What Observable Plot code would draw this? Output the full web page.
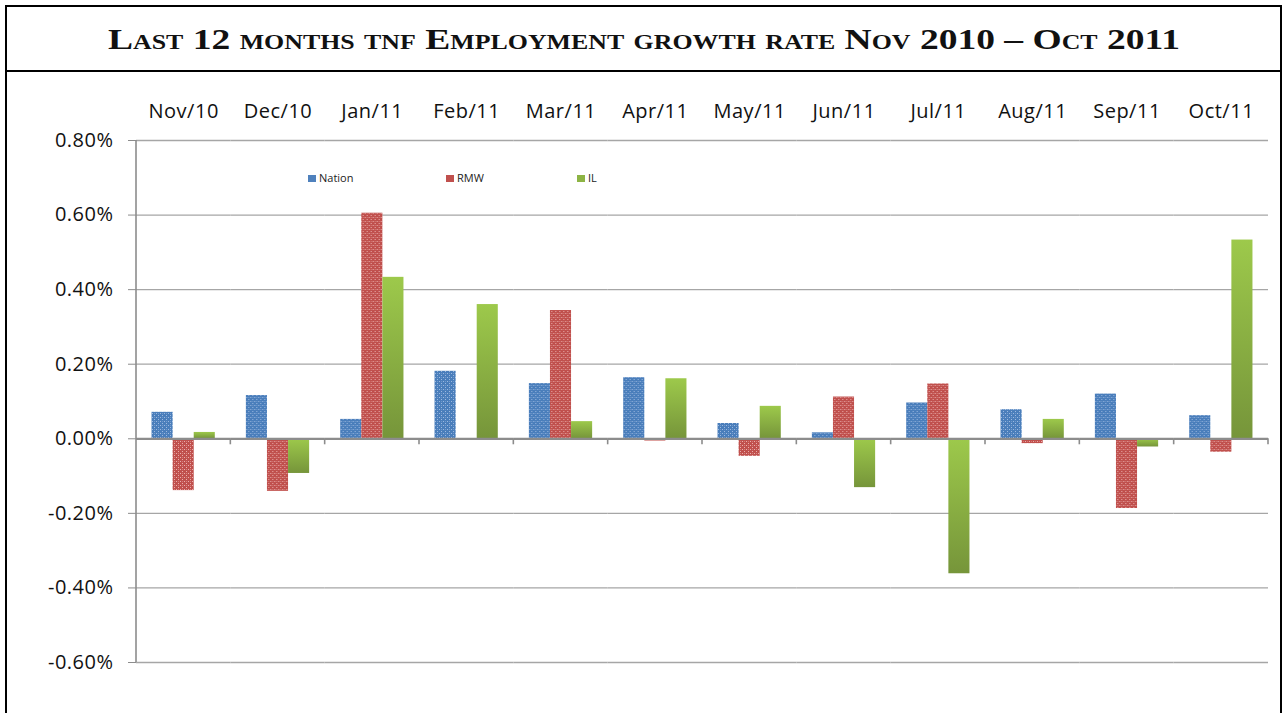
<!DOCTYPE html>
<html><head><meta charset="utf-8">
<script src="https://cdn.jsdelivr.net/npm/d3@7"></script>
<script src="https://cdn.jsdelivr.net/npm/@observablehq/plot@0.6"></script>
<style>
html,body{margin:0;padding:0;background:#fff;width:1287px;height:713px;overflow:hidden;position:relative;}
#box{position:absolute;left:5px;top:5px;width:1273px;height:800px;border:2px solid #000;}
#titlebar{position:absolute;left:0;top:0;width:1273px;height:63px;border-bottom:2px solid #000;}
#title{position:absolute;left:108px;top:19px;height:40px;line-height:40px;font-family:"Liberation Serif",serif;font-weight:bold;font-variant:small-caps;font-size:29px;white-space:nowrap;transform-origin:left center;color:#111;}
#chart{position:absolute;left:0;top:73px;}
.lg{position:absolute;top:170px;height:15px;line-height:15px;font-family:"Open Sans",sans-serif;font-size:11px;color:#222;white-space:nowrap;}
.sw{display:inline-block;width:8px;height:7px;vertical-align:middle;margin-right:3px;position:relative;top:-1px;}
</style></head>
<body>
<svg width="0" height="0" style="position:absolute">
  <defs>
    <pattern id="pN" patternUnits="userSpaceOnUse" width="4" height="4">
      <rect width="4" height="4" fill="#4a7ebb"/>
      <rect x="0" y="0" width="1" height="1" fill="#9cb9e0"/>
      <rect x="2" y="2" width="1" height="1" fill="#9cb9e0"/>
      <rect x="2" y="0" width="1" height="1" fill="#6f98cc"/>
    </pattern>
    <pattern id="pR" patternUnits="userSpaceOnUse" width="4" height="4">
      <rect width="4" height="4" fill="#c0504d"/>
      <rect x="0" y="0" width="1" height="1" fill="#eaaeac"/>
      <rect x="2" y="2" width="1" height="1" fill="#eaaeac"/>
      <rect x="2" y="0" width="1" height="1" fill="#d47b78"/>
    </pattern>
    <linearGradient id="gI" x1="0" y1="0" x2="0" y2="1">
      <stop offset="0" stop-color="#9dc94b"/>
      <stop offset="1" stop-color="#76953a"/>
    </linearGradient>
  </defs>
</svg>
<div id="box"><div id="titlebar"></div></div>
<div id="title">Last 12 months tnf Employment growth rate Nov 2010 – Oct 2011</div>
<div id="chart"></div>
<div class="lg" style="left:308px"><span class="sw" style="background:#4f81bd"></span>Nation</div>
<div class="lg" style="left:446px"><span class="sw" style="background:#c0504d"></span>RMW</div>
<div class="lg" style="left:577px"><span class="sw" style="background:#8db444"></span>IL</div>
<script>
const months = ["Nov/10","Dec/10","Jan/11","Feb/11","Mar/11","Apr/11","May/11","Jun/11","Jul/11","Aug/11","Sep/11","Oct/11"];
const series = ["Nation","RMW","IL"];
const nation = [0.071, 0.116, 0.052, 0.181, 0.148, 0.164, 0.041, 0.016, 0.096, 0.078, 0.120, 0.062];
const rmw    = [-0.139, -0.141, 0.605, 0.000, 0.344, -0.006, -0.047, 0.112, 0.147, -0.013, -0.187, -0.036];
const il     = [0.017, -0.093, 0.433, 0.360, 0.046, 0.161, 0.087, -0.131, -0.362, 0.052, -0.022, 0.533];
const yTicks = [-0.6, -0.4, -0.2, 0, 0.2, 0.4, 0.6, 0.8];
const fills = {Nation: "url(#pN)", RMW: "url(#pR)", IL: "url(#gI)"};
const valuesBySeries = {Nation: nation, RMW: rmw, IL: il};

const data = months.flatMap((m, i) => series.map(s => ({month: m, series: s, value: valuesBySeries[s][i]})));

const chart = Plot.plot({
  width: 1287, height: 640,
  marginLeft: 136, marginRight: 19, marginTop: 67, marginBottom: 51,
  style: {fontFamily: "'Open Sans', sans-serif", background: "transparent", color: "#111"},
  fx: {domain: months, padding: 0, round: false},
  x: {domain: series, paddingInner: 0, paddingOuter: 0.737, round: false, axis: null},
  y: {domain: [-0.6, 0.8]},
  marks: [
    Plot.ruleY(yTicks.filter(t => t !== 0), {stroke: "#a6a6a6", strokeWidth: 1.3}),
    ...series.map(s => Plot.barY(data.filter(d => d.series === s), {fx: "month", x: "series", y: "value", fill: fills[s]})),
    Plot.ruleY([0], {stroke: "#8c8c8c", strokeWidth: 2.2}),
    Plot.axisY({ticks: yTicks, tickFormat: d => d.toFixed(2) + "%", tickSize: 8, tickPadding: 15, stroke: "#8c8c8c", fontSize: 20, label: null, fill: "#111"}),
    Plot.axisFx({anchor: "top", tickSize: 0, tickPadding: 23, fontSize: 20, label: null, fill: "#111"})
  ]
});
chart.style.letterSpacing = "0.5px";
document.getElementById("chart").appendChild(chart);

// axis line and category boundary ticks from Plot's scales
const fxS = chart.scale("fx"), yS = chart.scale("y");
const g = d3.select(chart).append("g").attr("stroke", "#8c8c8c").attr("stroke-width", 1.6);
const x0 = fxS.apply(months[0]);
g.append("line").attr("x1", x0).attr("x2", x0).attr("y1", yS.apply(0.8)).attr("y2", yS.apply(-0.6));
months.forEach(m => {
  const xb = fxS.apply(m) + fxS.bandwidth;
  g.append("line").attr("x1", xb).attr("x2", xb).attr("y1", yS.apply(0)).attr("y2", yS.apply(0) + 6);
});

// fit title width
const t = document.getElementById("title");
const w = t.getBoundingClientRect().width;
t.style.transform = `scaleX(${(1180 - 108) / w})`;
</script>
</body></html>
